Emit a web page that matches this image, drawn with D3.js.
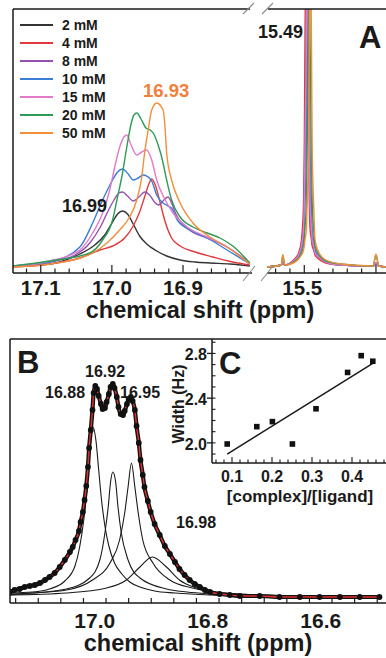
<!DOCTYPE html>
<html><head><meta charset="utf-8">
<script src="https://cdn.jsdelivr.net/npm/d3@7"></script>
<style>
html,body{margin:0;padding:0;background:#fff;}
svg{display:block;}
text{font-family:"Liberation Sans",Arial,Helvetica,sans-serif;font-weight:bold;fill:#1a1a1a;}
</style></head><body>
<svg id="chart" width="386" height="658"></svg>
<script>
// ================= DATA =================
// Panel A: 1H NMR spectra at different concentrations, [ppm, intensity (a.u.)]
const concLabels = ["2 mM","4 mM","8 mM","10 mM","15 mM","20 mM","50 mM"];
const concColors = ["#333333","#e0393e","#9650b0","#3a7fd5","#e27ac8","#2e9a55","#f28e3c"];

const s2mM  = [[17.139,2],[17.101,3],[17.073,6],[17.045,14],[17.024,23],[17.010,33],[16.999,46],[16.992,54],[16.985,57],[16.978,54],[16.970,44],[16.961,32],[16.951,24],[16.937,17],[16.923,12],[16.904,8],[16.883,6],[16.862,5],[16.834,4],[16.806,2]];
const s4mM  = [[17.139,1],[17.087,4],[17.045,10],[17.017,18],[16.999,22],[16.982,30],[16.970,42],[16.961,56],[16.954,71],[16.948,84],[16.944,89],[16.939,83],[16.932,65],[16.925,46],[16.916,30],[16.904,22],[16.883,16],[16.858,11],[16.830,6],[16.806,3]];
const s8mM  = [[17.139,2],[17.087,6],[17.052,13],[17.031,25],[17.017,40],[17.006,56],[16.997,68],[16.990,75],[16.985,76],[16.978,72],[16.970,67],[16.962,71],[16.954,76],[16.947,73],[16.939,65],[16.934,63],[16.927,68],[16.921,71],[16.916,65],[16.910,54],[16.901,44],[16.887,36],[16.866,30],[16.838,21],[16.806,5]];
const s10mM = [[17.139,2],[17.087,6],[17.045,21],[17.027,45],[17.013,68],[16.999,88],[16.992,96],[16.985,99],[16.977,94],[16.970,88],[16.963,90],[16.956,93],[16.949,91],[16.944,87],[16.937,73],[16.928,65],[16.921,62],[16.916,60],[16.908,48],[16.890,38],[16.866,30],[16.838,18],[16.806,4]];
const s15mM = [[17.139,2],[17.087,7],[17.045,18],[17.027,35],[17.013,55],[17.003,78],[16.996,101],[16.989,121],[16.983,131],[16.979,133],[16.973,123],[16.965,113],[16.958,116],[16.951,118],[16.944,108],[16.937,88],[16.925,68],[16.914,55],[16.894,41],[16.866,31],[16.838,21],[16.806,4]];
const s20mM = [[17.139,2],[17.087,7],[17.031,15],[17.013,28],[16.999,48],[16.992,71],[16.985,95],[16.979,121],[16.973,144],[16.969,153],[16.965,155],[16.959,149],[16.952,140],[16.946,138],[16.941,134],[16.935,123],[16.930,111],[16.923,88],[16.916,68],[16.904,51],[16.886,41],[16.866,35],[16.848,30],[16.830,22],[16.806,5]];
const s50mM = [[17.139,1],[17.087,4],[17.027,15],[17.007,25],[16.989,38],[16.975,51],[16.965,68],[16.958,91],[16.954,115],[16.949,138],[16.944,158],[16.937,165],[16.928,158],[16.925,138],[16.923,115],[16.916,88],[16.904,65],[16.886,45],[16.862,31],[16.838,21],[16.806,4]];
const leftSeries = [s2mM, s4mM, s8mM, s10mM, s15mM, s20mM, s50mM];

// right part of panel A (15.49 ppm peak), shared ppm grid
const rightPpm = [15.552,15.532,15.530,15.527,15.515,15.508,15.504,15.501,15.500,15.499,15.497,15.496,15.494,15.493,15.492,15.490,15.489,15.487,15.485,15.480,15.470,15.449,15.404,15.400,15.396,15.386];
const r2mM  = [1,3,5,3,7,13,22,40,65,120,230,320,230,120,65,40,28,22,15,11,6,3,2,4,2,1];
const r4mM  = [1,3,6,3,8,15,28,65,120,230,320,230,120,65,40,28,22,18,13,9,5,3,2,5,2,1];
const r8mM  = [1,3,6,3,7,13,22,40,65,120,230,320,230,120,65,40,28,22,15,11,6,3,2,5,2,1];
const r10mM = [1,3,6,3,6,11,18,28,40,65,120,230,320,230,120,65,40,28,18,12,7,3,2,5,2,1];
const r15mM = [1,3,6,3,7,13,22,40,65,120,230,320,230,120,65,40,28,22,15,11,6,3,2,5,2,1];
const r20mM = [1,3,13,3,6,10,15,22,28,40,65,120,230,320,230,120,65,40,22,14,7,4,2,13,2,1];
const r50mM = [1,3,13,3,5,9,13,18,22,28,40,65,120,230,320,230,120,65,28,16,8,4,2,14,2,1];
const rightSeries = [r2mM, r4mM, r8mM, r10mM, r15mM, r20mM, r50mM];

const aLeftTickLabels = ["17.1","17.0","16.9"];
const aRightTickLabels = ["15.5"];

// Panel B: experimental spectrum (dots) and fitted Lorentzian components
const bPpm = [17.150,17.142,17.133,17.124,17.115,17.106,17.097,17.088,17.080,17.071,17.062,17.053,17.044,17.039,17.034,17.028,17.025,17.021,17.018,17.015,17.012,17.010,17.007,17.004,17.002,16.999,16.996,16.993,16.989,16.986,16.982,16.979,16.975,16.972,16.968,16.965,16.961,16.958,16.954,16.950,16.947,16.943,16.940,16.936,16.933,16.929,16.926,16.922,16.919,16.915,16.912,16.906,16.901,16.894,16.885,16.876,16.867,16.858,16.850,16.841,16.832,16.823,16.814,16.805,16.796,16.779,16.761,16.743,16.708,16.673,16.637,16.602,16.566,16.531,16.496];
const bInt = [6,8,9,11,12,13,15,18,21,25,31,38,46,51,58,67,76,86,98,112,131,150,168,188,205,212,209,202,194,189,190,196,204,211,214,210,201,191,184,183,187,194,199,201,197,188,172,155,138,123,111,97,86,74,63,52,44,36,29,23,18,14,11,8,6,4,3,2,2,1,1,1,1,1,1];
const comp1 = [[17.150,5],[17.110,6],[17.080,9],[17.053,17],[17.035,32],[17.027,50],[17.019,80],[17.014,108],[17.009,145],[17.003,171],[16.998,158],[16.993,128],[16.988,98],[16.982,72],[16.975,52],[16.965,35],[16.952,24],[16.938,16],[16.920,11],[16.894,7],[16.858,5],[16.796,3],[16.708,2],[16.602,1],[16.496,1]];
const comp2 = [[17.150,4],[17.110,5],[17.050,9],[17.009,20],[16.991,38],[16.982,65],[16.976,92],[16.972,116],[16.968,126],[16.963,116],[16.959,92],[16.953,65],[16.941,38],[16.920,20],[16.873,9],[16.837,6],[16.791,4],[16.708,2],[16.602,1],[16.496,1]];
const comp3 = [[17.150,3],[17.110,5],[17.050,8],[17.004,18],[16.973,35],[16.956,58],[16.947,85],[16.941,111],[16.935,135],[16.929,111],[16.923,85],[16.915,58],[16.897,35],[16.867,18],[16.827,10],[16.791,6],[16.708,3],[16.602,2],[16.496,1]];
const comp4 = [[17.150,3],[17.050,5],[16.979,10],[16.944,18],[16.920,31],[16.898,41],[16.873,31],[16.850,18],[16.820,10],[16.791,6],[16.708,3],[16.602,2],[16.496,1]];
const components = [comp1, comp2, comp3, comp4];
const bTickLabels = ["17.0","16.8","16.6"];
const bPeakLabels = ["16.88","16.92","16.95","16.98"];

// Panel C: line width vs [complex]/[ligand]
const cRatio = [0.088,0.162,0.201,0.251,0.310,0.389,0.423,0.452];
const cWidth = [1.99,2.145,2.19,1.99,2.305,2.63,2.78,2.73];
const cFitRatio = [0.088,0.452];
const cFitWidth = [1.90,2.71];
const cXTickLabels = ["0.1","0.2","0.3","0.4"];
const cYTickLabels = ["2.0","2.4","2.8"];

// ================= DRAW =================
const svg = d3.select("#chart");
const ink = "#1a1a1a";

// ---------- Panel A ----------
const xL = d3.scaleLinear().domain([17.139,16.803]).range([13,252]);
const xR = d3.scaleLinear().domain([15.552,15.386]).range([267,386]);
const yA = d3.scaleLinear().domain([0,259]).range([268,9]);
const aAxisY = 273;

const defs = svg.append("defs");
defs.append("clipPath").attr("id","clipAL").append("rect").attr("x",13).attr("y",9).attr("width",239).attr("height",264);
defs.append("clipPath").attr("id","clipAR").append("rect").attr("x",267).attr("y",9).attr("width",119).attr("height",264);

const lineL = d3.line().x(d=>xL(d[0])).y(d=>yA(d[1])).curve(d3.curveMonotoneX);
const gL = svg.append("g").attr("clip-path","url(#clipAL)");
leftSeries.forEach((s,i)=>{
  gL.append("path").attr("d",lineL(s)).attr("fill","none").attr("stroke",concColors[i]).attr("stroke-width",1.4);
});
const lineR = d3.line().x((d,j)=>xR(rightPpm[j])).y(d=>yA(d)).curve(d3.curveMonotoneX);
const gR = svg.append("g").attr("clip-path","url(#clipAR)");
rightSeries.forEach((s,i)=>{
  gR.append("path").attr("d",lineR(s)).attr("fill","none").attr("stroke",concColors[i]).attr("stroke-width",1.4);
});

// frame A
svg.append("line").attr("x1",13).attr("x2",13).attr("y1",9).attr("y2",aAxisY).attr("stroke",ink).attr("stroke-width",1.5);
svg.append("line").attr("x1",13).attr("x2",250).attr("y1",9).attr("y2",9).attr("stroke",ink).attr("stroke-width",1.5);
svg.append("line").attr("x1",268).attr("x2",386).attr("y1",9).attr("y2",9).attr("stroke",ink).attr("stroke-width",1.5);
svg.append("line").attr("x1",13).attr("x2",252).attr("y1",aAxisY).attr("y2",aAxisY).attr("stroke",ink).attr("stroke-width",1.5);
svg.append("line").attr("x1",267).attr("x2",386).attr("y1",aAxisY).attr("y2",aAxisY).attr("stroke",ink).attr("stroke-width",1.5);
// break marks
[[243,14,254,3],[262,14,273,3],[243,281,255,266],[261,281,273,266]].forEach(b=>{
  svg.append("line").attr("x1",b[0]).attr("y1",b[1]).attr("x2",b[2]).attr("y2",b[3]).attr("stroke","#8a8a8a").attr("stroke-width",1.1);
});
// ticks A
function isMajor(v){ return Math.abs(v*10-Math.round(v*10))<1e-6; }
xL.ticks(20).forEach(v=>{
  const x=xL(v), len=isMajor(v)?8:4.5;
  svg.append("line").attr("x1",x).attr("x2",x).attr("y1",aAxisY).attr("y2",aAxisY-len).attr("stroke",ink).attr("stroke-width",1.2);
});
xR.ticks(10).forEach(v=>{
  const x=xR(v), len=isMajor(v)?8:4.5;
  svg.append("line").attr("x1",x).attr("x2",x).attr("y1",aAxisY).attr("y2",aAxisY-len).attr("stroke",ink).attr("stroke-width",1.2);
});
aLeftTickLabels.forEach(t=>{
  svg.append("text").attr("x",xL(+t)).attr("y",295).attr("text-anchor","middle").attr("font-size",20.5).text(t);
});
aRightTickLabels.forEach(t=>{
  svg.append("text").attr("x",xR(+t)-2).attr("y",295).attr("text-anchor","middle").attr("font-size",20.5).text(t);
});
svg.append("text").attr("x",200).attr("y",318).attr("text-anchor","middle").attr("font-size",23.5).text("chemical shift (ppm)");

// legend
concLabels.forEach((lab,i)=>{
  const y = 25 + i*18;
  svg.append("line").attr("x1",20).attr("x2",53).attr("y1",y).attr("y2",y).attr("stroke",concColors[i]).attr("stroke-width",2);
  svg.append("text").attr("x",62).attr("y",y+5).attr("font-size",14).text(lab);
});
svg.append("text").attr("x",62).attr("y",212).attr("font-size",18).text("16.99");
svg.append("text").attr("x",143).attr("y",97).attr("font-size",18.5).style("fill","#f07f3c").text("16.93");
svg.append("text").attr("x",258).attr("y",38).attr("font-size",18).text("15.49");
svg.append("text").attr("x",359).attr("y",48).attr("font-size",31).text("A");

// ---------- Panel B ----------
const xB = d3.scaleLinear().domain([17.150,16.488]).range([10,384]);
const yB = d3.scaleLinear().domain([0,259]).range([598,339]);
const bAxisY = 603;
defs.append("clipPath").attr("id","clipB").append("rect").attr("x",10).attr("y",339).attr("width",376).attr("height",264);
const gB = svg.append("g").attr("clip-path","url(#clipB)");
const spec = bPpm.map((p,i)=>[p,bInt[i]]);
const lineB = d3.line().x(d=>xB(d[0])).y(d=>yB(d[1])).curve(d3.curveMonotoneX);
components.forEach(c=>{
  gB.append("path").attr("d",lineB(c)).attr("fill","none").attr("stroke",ink).attr("stroke-width",1.1);
});
gB.append("path").attr("d",lineB(spec)).attr("fill","none").attr("stroke","#111").attr("stroke-width",4.2);
gB.append("path").attr("d",lineB(spec)).attr("fill","none").attr("stroke","#e03030").attr("stroke-width",1.4);
gB.selectAll("circle.pt").data(spec).enter().append("circle")
  .attr("cx",d=>xB(d[0])).attr("cy",d=>yB(d[1])).attr("r",2.9).attr("fill","#111");

// frame B
svg.append("line").attr("x1",10).attr("x2",10).attr("y1",339).attr("y2",bAxisY).attr("stroke",ink).attr("stroke-width",1.5);
svg.append("line").attr("x1",10).attr("x2",386).attr("y1",339).attr("y2",339).attr("stroke",ink).attr("stroke-width",1.5);
svg.append("line").attr("x1",10).attr("x2",386).attr("y1",bAxisY).attr("y2",bAxisY).attr("stroke",ink).attr("stroke-width",1.5);
d3.range(16.50,17.15,0.04).forEach(v=>{
  const x=xB(v);
  svg.append("line").attr("x1",x).attr("x2",x).attr("y1",bAxisY).attr("y2",bAxisY-5).attr("stroke",ink).attr("stroke-width",1.2);
});
bTickLabels.forEach(t=>{
  svg.append("text").attr("x",xB(+t)).attr("y",628).attr("text-anchor","middle").attr("font-size",21).text(t);
});
svg.append("text").attr("x",198).attr("y",651).attr("text-anchor","middle").attr("font-size",23.5).text("chemical shift (ppm)");
svg.append("text").attr("x",17).attr("y",373).attr("font-size",31).text("B");
const bLabelPos = [[45,398],[85,377],[120,398],[176,528]];
bPeakLabels.forEach((t,i)=>{
  svg.append("text").attr("x",bLabelPos[i][0]).attr("y",bLabelPos[i][1]).attr("font-size",16).text(t);
});

// ---------- Panel C ----------
const xC = d3.scaleLinear().domain([0.05,0.485]).range([212,386]);
const yC = d3.scaleLinear().domain([1.82,2.92]).range([463,340]);
svg.append("line").attr("x1",212).attr("x2",212).attr("y1",339).attr("y2",463).attr("stroke",ink).attr("stroke-width",1.5);
svg.append("line").attr("x1",212).attr("x2",386).attr("y1",463).attr("y2",463).attr("stroke",ink).attr("stroke-width",1.5);
xC.ticks(20).forEach(v=>{
  const x=xC(v), len=isMajor(v)?6:3.5;
  svg.append("line").attr("x1",x).attr("x2",x).attr("y1",463).attr("y2",463-len).attr("stroke",ink).attr("stroke-width",1.1);
});
yC.ticks(10).forEach(v=>{
  const y=yC(v);
  svg.append("line").attr("x1",212).attr("x2",215.5).attr("y1",y).attr("y2",y).attr("stroke",ink).attr("stroke-width",1.1);
});
cYTickLabels.forEach(t=>{
  const y=yC(+t);
  svg.append("line").attr("x1",207).attr("x2",212).attr("y1",y).attr("y2",y).attr("stroke",ink).attr("stroke-width",1.3);
  svg.append("text").attr("x",207).attr("y",y+7).attr("text-anchor","end").attr("font-size",16).text(t);
});
cXTickLabels.forEach(t=>{
  svg.append("text").attr("x",xC(+t)).attr("y",482).attr("text-anchor","middle").attr("font-size",16).text(t);
});
svg.append("text").attr("transform","translate(184,404) rotate(-90)").attr("text-anchor","middle").attr("font-size",16).text("Width (Hz)");
svg.append("text").attr("x",300).attr("y",502).attr("text-anchor","middle").attr("font-size",17).text("[complex]/[ligand]");
svg.append("text").attr("x",219).attr("y",374).attr("font-size",31).text("C");
svg.append("path").attr("d",d3.line().x(d=>xC(d[0])).y(d=>yC(d[1]))(cFitRatio.map((r,i)=>[r,cFitWidth[i]])))
  .attr("stroke",ink).attr("stroke-width",1.5).attr("fill","none");
svg.selectAll("rect.pt").data(cRatio.map((r,i)=>[r,cWidth[i]])).enter().append("rect")
  .attr("x",d=>xC(d[0])-2.8).attr("y",d=>yC(d[1])-2.8).attr("width",5.6).attr("height",5.6).attr("fill","#111");
</script>
</body></html>
